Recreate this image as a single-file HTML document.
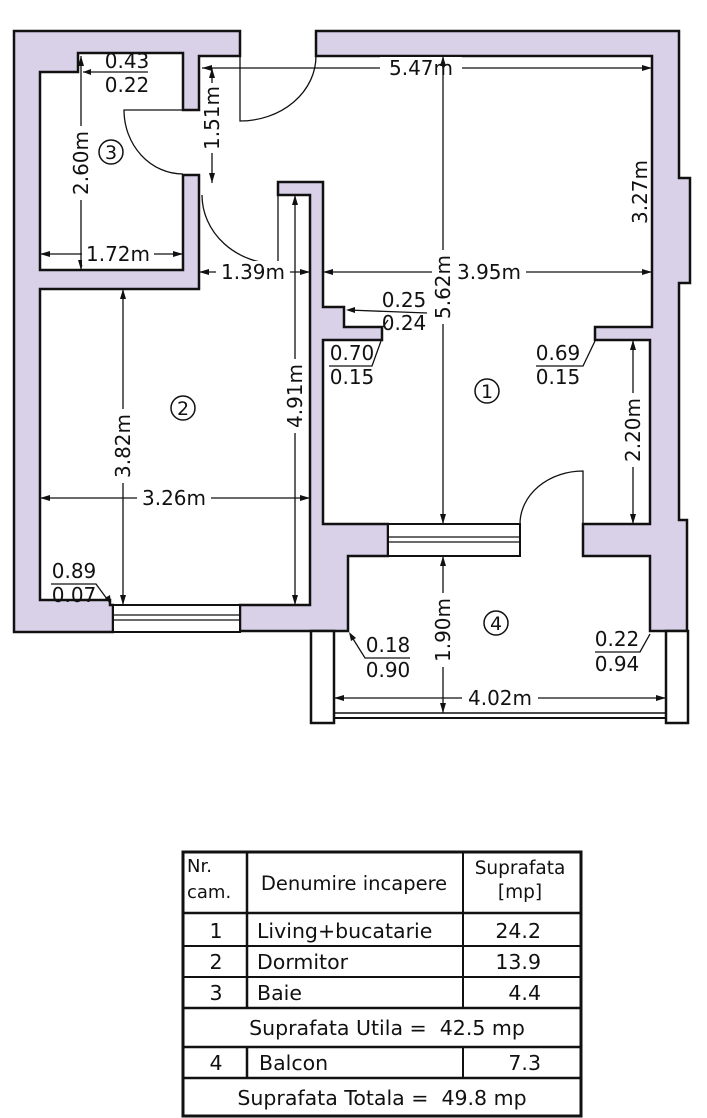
<!DOCTYPE html>
<html><head><meta charset="utf-8"><style>
html,body{margin:0;padding:0;background:#fff;}
svg{display:block;}
text{font-family:"DejaVu Sans","Liberation Sans",sans-serif;fill:#111;}
.d{font-size:20px;}
.w{fill:#d9d1e8;stroke:#111;stroke-width:2.5;stroke-linejoin:miter;}
.l{stroke:#111;stroke-width:1.3;fill:none;}
.dl{stroke:#111;stroke-width:1.3;fill:none;marker-start:url(#a);marker-end:url(#a);}
.t{font-size:20.5px;}
</style></head><body>
<svg width="707" height="1118" viewBox="0 0 707 1118" xmlns="http://www.w3.org/2000/svg">
<defs><marker id="a" viewBox="0 0 10 6" refX="10" refY="3" markerWidth="10" markerHeight="6" orient="auto-start-reverse" markerUnits="userSpaceOnUse"><path d="M0,0L10,3L0,6z" fill="#111"/></marker></defs>

<!-- walls -->
<polygon class="w" points="14,31 240,31 240,56 199,56 199,110 183,110 183,53 78,53 78,72 40,72 40,270 183,270 183,175 199,175 199,289 40,289 40,600 110,600 110,605 113,605 113,632 14,632"/>
<polygon class="w" points="240,605 310,605 310,195 278,195 278,182 323,182 323,307 344,307 344,327 382,327 382,340 323,340 323,524 388,524 388,556 348,556 348,631 240,631"/>
<polygon class="w" points="316,31 679,31 679,178 690,178 690,283 679,283 679,520 687,520 687,631 650,631 650,556 583,556 583,524 650,524 650,340 595,340 595,327 652,327 652,56 316,56"/>

<!-- windows -->
<rect x="113" y="605" width="127" height="27" fill="#fff" stroke="#111" stroke-width="2"/>
<line class="l" x1="113" y1="615" x2="240" y2="615"/><line class="l" x1="113" y1="620" x2="240" y2="620"/>
<rect x="388" y="524" width="132" height="32" fill="#fff" stroke="#111" stroke-width="2"/>
<line class="l" x1="388" y1="537" x2="520" y2="537" stroke-width="1.6"/><line class="l" x1="388" y1="542" x2="520" y2="542" stroke-width="1.6"/>

<!-- balcony -->
<rect x="311" y="631" width="23" height="92" fill="#fff" stroke="#111" stroke-width="2.5"/>
<rect x="666" y="631" width="22" height="92" fill="#fff" stroke="#111" stroke-width="2.5"/>
<line x1="334" y1="713" x2="666" y2="713" stroke="#111" stroke-width="1.6"/>
<line x1="334" y1="718" x2="666" y2="718" stroke="#111" stroke-width="2"/>

<!-- doors -->
<path class="l" d="M240,56 L240,121 A76,65 0 0 0 316,56" stroke-width="1.6"/>
<path class="l" d="M183,110 L124,110 A59,64 0 0 0 183,174" stroke-width="1.6"/>
<path class="l" d="M278,195 L278,264 A76,69 0 0 1 202,195" stroke-width="1.6"/>
<path class="l" d="M583,524 L583,471 A63,53 0 0 0 520,524" stroke-width="1.6"/>

<!-- dimension lines -->
<line class="dl" x1="202" y1="68" x2="652" y2="68"/>
<rect x="380" y="57" width="82" height="22" fill="#fff"/>
<text class="d" x="421" y="75" text-anchor="middle">5.47m</text>
<line class="dl" x1="443" y1="56" x2="443" y2="524"/>
<line class="dl" x1="323" y1="272" x2="652" y2="272"/>
<rect x="452" y="261" width="74" height="22" fill="#fff"/>
<text class="d" x="489" y="279" text-anchor="middle">3.95m</text>
<g transform="translate(443,287) rotate(-90)"><rect x="-37" y="-11" width="74" height="22" fill="#fff"/><text class="d" x="0" y="7" text-anchor="middle">5.62m</text></g>
<g transform="translate(640,192) rotate(-90)"><text class="d" x="0" y="7" text-anchor="middle">3.27m</text></g>
<line class="dl" x1="199" y1="272" x2="310" y2="272"/>
<rect x="216" y="261" width="74" height="22" fill="#fff"/>
<text class="d" x="253" y="279" text-anchor="middle">1.39m</text>
<line class="dl" x1="212" y1="68" x2="212" y2="183"/>
<g transform="translate(212,118) rotate(-90)"><rect x="-35" y="-11" width="70" height="22" fill="#fff"/><text class="d" x="0" y="7" text-anchor="middle">1.51m</text></g>
<line class="dl" x1="81" y1="56" x2="81" y2="270"/>
<g transform="translate(81,163) rotate(-90)"><rect x="-37" y="-11" width="74" height="22" fill="#fff"/><text class="d" x="0" y="7" text-anchor="middle">2.60m</text></g>
<line class="dl" x1="40" y1="254" x2="183" y2="254"/>
<rect x="82" y="243" width="72" height="22" fill="#fff"/>
<text class="d" x="118" y="261" text-anchor="middle">1.72m</text>
<line class="l" x1="83" y1="72" x2="148" y2="72"/>
<path d="M83,72 l8,-3 v6z" fill="#111"/>
<text class="d" x="127" y="68" text-anchor="middle">0.43</text>
<text class="d" x="127" y="92" text-anchor="middle">0.22</text>
<circle cx="111" cy="152" r="12" fill="#fff" stroke="#111" stroke-width="1.5"/><text x="111" y="159" font-size="19" text-anchor="middle">3</text>

<line class="dl" x1="123" y1="289" x2="123" y2="605"/>
<g transform="translate(123,446) rotate(-90)"><rect x="-37" y="-11" width="74" height="22" fill="#fff"/><text class="d" x="0" y="7" text-anchor="middle">3.82m</text></g>
<line class="dl" x1="40" y1="498" x2="310" y2="498"/>
<rect x="137" y="487" width="74" height="22" fill="#fff"/>
<text class="d" x="174" y="505" text-anchor="middle">3.26m</text>
<line class="dl" x1="295" y1="195" x2="295" y2="605"/>
<g transform="translate(295,396) rotate(-90)"><rect x="-37" y="-11" width="74" height="22" fill="#fff"/><text class="d" x="0" y="7" text-anchor="middle">4.91m</text></g>
<circle cx="183" cy="408" r="12" fill="#fff" stroke="#111" stroke-width="1.5"/><text x="183" y="415" font-size="19" text-anchor="middle">2</text>
<text class="d" x="74" y="578" text-anchor="middle">0.89</text>
<text class="d" x="74" y="602" text-anchor="middle">0.07</text>
<polyline class="l" points="51,584 96,584 110,603"/><path d="M111,604 l-1,-9 l-5,3z" fill="#111"/>

<text class="d" x="352" y="360" text-anchor="middle">0.70</text>
<text class="d" x="352" y="384" text-anchor="middle">0.15</text>
<polyline class="l" points="329,366 372,366 381,341"/>
<text class="d" x="404" y="307" text-anchor="middle">0.25</text>
<text class="d" x="404" y="330" text-anchor="middle">0.24</text>
<polyline class="l" points="348,310 427,313"/><path d="M346,310 l9,-3 v6z" fill="#111"/>
<line class="l" x1="383" y1="327" x2="388" y2="320"/>
<text class="d" x="558" y="360" text-anchor="middle">0.69</text>
<text class="d" x="558" y="384" text-anchor="middle">0.15</text>
<polyline class="l" points="536,366 583,366 595,341"/>
<circle cx="487" cy="391" r="12" fill="#fff" stroke="#111" stroke-width="1.5"/><text x="487" y="398" font-size="19" text-anchor="middle">1</text>
<line class="dl" x1="633" y1="340" x2="633" y2="524"/>
<g transform="translate(633,430) rotate(-90)"><rect x="-37" y="-11" width="74" height="22" fill="#fff"/><text class="d" x="0" y="7" text-anchor="middle">2.20m</text></g>

<line class="dl" x1="443" y1="556" x2="443" y2="713"/>
<g transform="translate(443,630) rotate(-90)"><rect x="-37" y="-11" width="74" height="22" fill="#fff"/><text class="d" x="0" y="7" text-anchor="middle">1.90m</text></g>
<circle cx="496" cy="623" r="12" fill="#fff" stroke="#111" stroke-width="1.5"/><text x="496" y="630" font-size="19" text-anchor="middle">4</text>
<line class="dl" x1="334" y1="698" x2="666" y2="698"/>
<rect x="462" y="687" width="76" height="22" fill="#fff"/>
<text class="d" x="500" y="705" text-anchor="middle">4.02m</text>
<text class="d" x="388" y="652" text-anchor="middle">0.18</text>
<text class="d" x="388" y="677" text-anchor="middle">0.90</text>
<polyline class="l" points="410,658 365,658 350,634"/><path d="M349,632 l2,9 l5,-3z" fill="#111"/>
<text class="d" x="617" y="646" text-anchor="middle">0.22</text>
<text class="d" x="617" y="671" text-anchor="middle">0.94</text>
<polyline class="l" points="595,652 640,652 650,634"/>

<!-- table -->
<g fill="none" stroke="#111">
<rect x="183" y="852" width="398" height="264" stroke-width="3"/>
<line x1="183" y1="913" x2="581" y2="913" stroke-width="2.5"/>
<line x1="183" y1="946" x2="581" y2="946" stroke-width="2"/>
<line x1="183" y1="977" x2="581" y2="977" stroke-width="2"/>
<line x1="183" y1="1008" x2="581" y2="1008" stroke-width="2.5"/>
<line x1="183" y1="1047" x2="581" y2="1047" stroke-width="2.5"/>
<line x1="183" y1="1078" x2="581" y2="1078" stroke-width="2.5"/>
<line x1="247" y1="852" x2="247" y2="1008" stroke-width="2.5"/>
<line x1="463" y1="852" x2="463" y2="1008" stroke-width="2"/>
<line x1="247" y1="1047" x2="247" y2="1078" stroke-width="2.5"/>
<line x1="463" y1="1047" x2="463" y2="1078" stroke-width="2"/>
</g>
<text x="187" y="872" font-size="18">Nr.</text>
<text x="187" y="898" font-size="18">cam.</text>
<text x="354" y="890" font-size="19.5" text-anchor="middle">Denumire incapere</text>
<text x="520" y="874" font-size="18.5" text-anchor="middle">Suprafata</text>
<text x="520" y="898" font-size="18.5" text-anchor="middle">[mp]</text>
<text class="t" x="216" y="938" text-anchor="middle">1</text>
<text class="t" x="257" y="938">Living+bucatarie</text>
<text class="t" x="541" y="938" text-anchor="end">24.2</text>
<text class="t" x="216" y="969" text-anchor="middle">2</text>
<text class="t" x="257" y="969">Dormitor</text>
<text class="t" x="541" y="969" text-anchor="end">13.9</text>
<text class="t" x="216" y="1000" text-anchor="middle">3</text>
<text class="t" x="257" y="1000">Baie</text>
<text class="t" x="541" y="1000" text-anchor="end">4.4</text>
<text class="t" x="387" y="1035" text-anchor="middle" xml:space="preserve">Suprafata Utila =  42.5 mp</text>
<text class="t" x="216" y="1070" text-anchor="middle">4</text>
<text class="t" x="259" y="1070">Balcon</text>
<text class="t" x="541" y="1070" text-anchor="end">7.3</text>
<text class="t" x="382" y="1105" text-anchor="middle" xml:space="preserve">Suprafata Totala =  49.8 mp</text>
</svg>
</body></html>
